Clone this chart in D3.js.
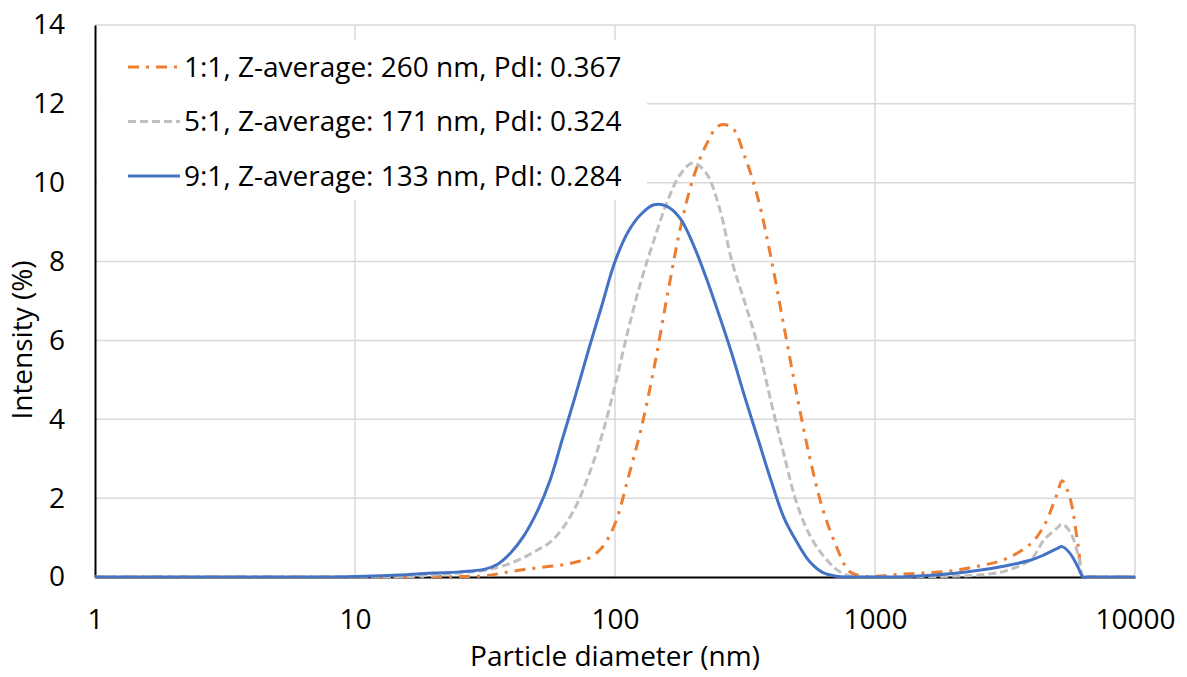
<!DOCTYPE html>
<html>
<head>
<meta charset="utf-8">
<script src="https://cdn.jsdelivr.net/npm/d3@7"></script>
<style>
  body { margin: 0; background: #fff; }
  svg { display: block; font-family: "Open Sans", sans-serif; }
</style>
</head>
<body>
<div id="chart"></div>
<script>
// particle diameters in nm, log spaced (finer around the peaks)
const sizes = [1, 1.259, 1.585, 1.995, 2.512, 3.162, 3.981, 5.012, 6.31, 7.943,
  10, 12.59, 15.85, 19.95, 25.12,
  31.62, 35.48, 39.81, 44.67, 50.12, 56.23, 63.1, 70.79, 79.43, 89.13,
  100, 112.2, 125.9, 141.3, 158.5, 177.8, 199.5, 223.9, 251.2, 281.8,
  316.2, 354.8, 398.1, 446.7, 501.2, 562.3, 631, 707.9, 794.3, 891.3,
  1000, 1259, 1585, 1995, 2512, 3162, 3981, 4467, 5012, 5248, 5623, 6026, 6310, 6457, 7943, 10000]

const ratio11 = [0, 0, 0, 0, 0, 0, 0, 0, 0, 0,
  0, 0, 0, 0.01, 0.01,
  0.03, 0.08, 0.14, 0.19, 0.23, 0.27, 0.31, 0.38, 0.48, 0.75,
  1.35, 2.5, 3.75, 5.3, 7.1, 8.8, 10.1, 10.95, 11.45, 11.4,
  10.65, 9.6, 8.1, 6.35, 4.6, 3.0, 1.7, 0.8, 0.15, 0.02,
  0.02, 0.07, 0.11, 0.16, 0.28, 0.45, 0.85, 1.3, 2.1, 2.44, 2.0, 0.85, 0, 0, 0, 0]

const ratio51 = [0, 0, 0, 0, 0, 0, 0, 0, 0, 0,
  0, 0, 0.01, 0.05, 0.1,
  0.17, 0.25, 0.35, 0.5, 0.68, 0.88, 1.25, 1.8, 2.6, 3.6,
  4.85, 6.25, 7.5, 8.55, 9.5, 10.2, 10.5, 10.25, 9.4, 8.0,
  6.95, 5.85, 4.45, 3.1, 1.85, 1.05, 0.55, 0.2, 0.03, 0,
  0, 0, 0.01, 0.02, 0.05, 0.15, 0.45, 0.94, 1.24, 1.34, 1.15, 0.6, 0, 0, 0, 0]

const ratio91 = [0, 0, 0, 0, 0, 0, 0, 0, 0, 0,
  0.01, 0.03, 0.06, 0.1, 0.13,
  0.2, 0.33, 0.62, 1.05, 1.65, 2.45, 3.55, 4.65, 5.8, 6.9,
  8.0, 8.75, 9.2, 9.44, 9.4, 9.1, 8.45, 7.6, 6.65, 5.65,
  4.55, 3.5, 2.45, 1.5, 0.88, 0.38, 0.11, 0.02, 0, 0,
  0, 0, 0.04, 0.09, 0.17, 0.28, 0.43, 0.56, 0.72, 0.77, 0.6, 0.26, 0, 0, 0, 0]

const series = [
  {name: "1:1, Z-average: 260 nm, PdI: 0.367", values: ratio11, color: "#ED7D31", dash: "11,7,3,7"},
  {name: "5:1, Z-average: 171 nm, PdI: 0.324", values: ratio51, color: "#BFBFBF", dash: "8,4"},
  {name: "9:1, Z-average: 133 nm, PdI: 0.284", values: ratio91, color: "#4472C4", dash: null}
]

const xTicks = [1, 10, 100, 1000, 10000]
const yTicks = [0, 2, 4, 6, 8, 10, 12, 14]

const width = 1187
const height = 677
const margin = {top: 25, right: 52, bottom: 100, left: 95}
const fontSize = 28

const xScale = d3.scaleLog()
  .domain([1, 10000])
  .range([margin.left, width - margin.right])

const yScale = d3.scaleLinear()
  .domain([0, 14])
  .range([height - margin.bottom, margin.top])

const svg = d3.select("#chart")
  .append("svg")
  .attr("width", width)
  .attr("height", height)

// keep smoothed curves from dipping under the x axis
svg.append("clipPath")
  .attr("id", "plot-clip")
  .append("rect")
  .attr("x", margin.left - 2)
  .attr("y", 0)
  .attr("width", width - margin.left - margin.right + 4)
  .attr("height", height - margin.bottom + 1.5)

// grid
svg.append("g")
  .selectAll("line")
  .data(yTicks.slice(1))
  .enter()
  .append("line")
  .attr("x1", margin.left)
  .attr("x2", width - margin.right)
  .attr("y1", d => yScale(d))
  .attr("y2", d => yScale(d))
  .attr("stroke", "#D9D9D9")
  .attr("stroke-width", 1.5)

svg.append("g")
  .selectAll("line")
  .data(xTicks.slice(1))
  .enter()
  .append("line")
  .attr("x1", d => xScale(d))
  .attr("x2", d => xScale(d))
  .attr("y1", margin.top)
  .attr("y2", height - margin.bottom)
  .attr("stroke", "#D9D9D9")
  .attr("stroke-width", 1.5)

// legend box hides the grid behind it
const legend = svg.append("g")
legend.append("rect")
  .attr("x", margin.left + 2)
  .attr("y", 40)
  .attr("width", 550)
  .attr("height", 160)
  .attr("fill", "#fff")

series.forEach((s, i) => {
  const ly = 67 + i * 54.5
  legend.append("line")
    .attr("x1", 128)
    .attr("x2", 180)
    .attr("y1", ly)
    .attr("y2", ly)
    .attr("stroke", s.color)
    .attr("stroke-width", 3)
    .attr("stroke-dasharray", s.dash)
  legend.append("text")
    .attr("x", 184)
    .attr("y", ly)
    .attr("dy", "0.35em")
    .attr("font-size", fontSize)
    .attr("fill", "#000")
    .text(s.name)
})

// axes
const xAxis = d3.axisBottom(xScale)
  .tickValues(xTicks)
  .tickFormat(d3.format("d"))
  .tickSize(0)
  .tickPadding(32)

const yAxis = d3.axisLeft(yScale)
  .tickValues(yTicks)
  .tickSize(0)
  .tickPadding(30)

svg.append("g")
  .attr("transform", `translate(0,${height - margin.bottom})`)
  .call(xAxis)
  .call(g => g.select(".domain").attr("stroke", "#000").attr("stroke-width", 2))
  .call(g => g.selectAll("text").attr("font-size", fontSize).attr("fill", "#000").attr("font-family", "Open Sans"))

svg.append("g")
  .attr("transform", `translate(${margin.left},0)`)
  .call(yAxis)
  .call(g => g.select(".domain").attr("stroke", "#000").attr("stroke-width", 2))
  .call(g => g.selectAll("text").attr("font-size", fontSize).attr("fill", "#000").attr("font-family", "Open Sans"))

// curves
const line = d3.line()
  .x((d, i) => xScale(sizes[i]))
  .y(d => yScale(d))
  .curve(d3.curveCatmullRom.alpha(0.5))

svg.append("g")
  .attr("clip-path", "url(#plot-clip)")
  .selectAll("path")
  .data(series)
  .enter()
  .append("path")
  .attr("d", d => line(d.values))
  .attr("fill", "none")
  .attr("stroke", d => d.color)
  .attr("stroke-width", 3)
  .attr("stroke-dasharray", d => d.dash)
  .attr("stroke-linejoin", "round")

// axis titles
svg.append("text")
  .attr("x", xScale(100))
  .attr("y", 656)
  .attr("text-anchor", "middle")
  .attr("dy", "0.35em")
  .attr("font-size", fontSize)
  .text("Particle diameter (nm)")

svg.append("text")
  .attr("transform", "translate(22,340) rotate(-90)")
  .attr("text-anchor", "middle")
  .attr("dy", "0.35em")
  .attr("font-size", fontSize)
  .text("Intensity (%)")
</script>
</body>
</html>
